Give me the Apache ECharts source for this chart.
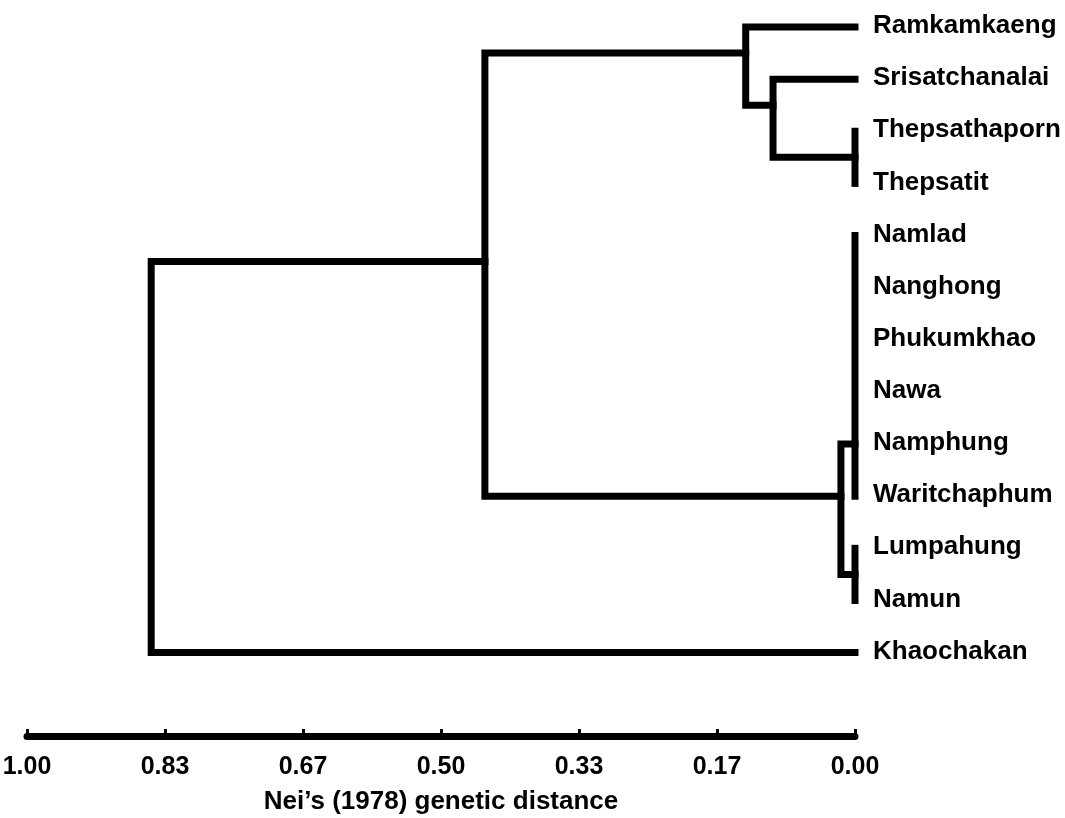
<!DOCTYPE html>
<html>
<head>
<meta charset="utf-8">
<script src="https://cdn.jsdelivr.net/npm/echarts@6/dist/echarts.min.js"></script>
<style>
html,body{margin:0;padding:0;background:#fff;}
#chart{width:1065px;height:818px;}
</style>
</head>
<body>
<div id="chart"></div>
<script>
// Leaves, top to bottom
const leaves = ['Ramkamkaeng','Srisatchanalai','Thepsathaporn','Thepsatit','Namlad','Nanghong',
  'Phukumkhao','Nawa','Namphung','Waritchaphum','Lumpahung','Namun','Khaochakan'];

// Internal nodes (clusters)
const nodeIds = ['A','B','C','D','E','F','G','H'];
const nodeChildren = [
  ['Thepsathaporn','Thepsatit'],
  ['Srisatchanalai','A'],
  ['Ramkamkaeng','B'],
  ['Namlad','Nanghong','Phukumkhao','Nawa','Namphung','Waritchaphum'],
  ['Lumpahung','Namun'],
  ['D','E'],
  ['C','F'],
  ['G','Khaochakan']
];
// Nei's genetic distance at which each cluster joins
const nodeDistance = [0.000, 0.099, 0.132, 0.000, 0.000, 0.017, 0.447, 0.850];
// Vertical position of each cluster's link (in leaf-order units)
const nodePosition = [2.5, 1.5, 0.5, 8, 10.5, 9, 4.5, 8.25];

const tickLabels = ['0.00','0.17','0.33','0.50','0.67','0.83','1.00'];
const axisTitle = 'Nei\u2019s (1978) genetic distance';

function info(id){
  const li = leaves.indexOf(id);
  if (li >= 0) return {d: 0, p: li};
  const ni = nodeIds.indexOf(id);
  return {d: nodeDistance[ni], p: nodePosition[ni]};
}

const FONT = 'Liberation Sans, Arial, Helvetica, sans-serif';
const lineStyle = {stroke:'#000', lineWidth:7, fill:null, lineCap:'square', lineJoin:'miter'};

const chart = echarts.init(document.getElementById('chart'));
chart.setOption({
  animation:false,
  backgroundColor:'#fff',
  grid:{left:27, right:210, top:27, bottom:82, containLabel:false, outerBoundsMode:'none'},
  xAxis:{
    type:'value', inverse:true, min:0, max:1, interval:1/6,
    axisLine:{show:true, onZero:false, lineStyle:{color:'#000', width:7}},
    axisTick:{show:true, inside:true, length:7, lineStyle:{color:'#000', width:3}},
    splitLine:{show:false},
    axisLabel:{color:'#000', fontSize:25, fontWeight:'bold', fontFamily:FONT, margin:19,
      formatter:function(v, i){ return tickLabels[Math.round(v*6)]; }},
    name:axisTitle, nameLocation:'middle', nameGap:53,
    nameTextStyle:{color:'#000', fontSize:26, fontWeight:'bold', fontFamily:FONT}
  },
  yAxis:{type:'value', inverse:true, min:0, max:13.6, show:false},
  series:[
    {
      type:'custom',
      data: nodeIds.map(function(id, i){ return [nodeDistance[i], nodePosition[i], i]; }),
      encode:{x:0, y:1},
      renderItem:function(params, api){
        const i = api.value(2);
        const h = nodeDistance[i];
        const kids = nodeChildren[i].map(info);
        const first = kids[0], last = kids[kids.length-1];
        const pts = [
          api.coord([first.d, first.p]), api.coord([h, first.p]),
          api.coord([h, last.p]), api.coord([last.d, last.p])
        ];
        const children = [{type:'polyline', shape:{points:pts}, style:lineStyle}];
        for (let k = 1; k < kids.length-1; k++){
          children.push({type:'line', shape:{
            x1:api.coord([h, kids[k].p])[0], y1:api.coord([h, kids[k].p])[1],
            x2:api.coord([kids[k].d, kids[k].p])[0], y2:api.coord([kids[k].d, kids[k].p])[1]},
            style:lineStyle});
        }
        return {type:'group', children:children};
      }
    },
    {
      type:'custom',
      data: leaves.map(function(n, i){ return [0, i, i]; }),
      encode:{x:0, y:1},
      renderItem:function(params, api){
        const i = api.value(2);
        const c = api.coord([0, i]);
        return {type:'text', x:c[0]+18, y:c[1]-1, style:{
          text:leaves[i], fill:'#000', fontSize:26, fontWeight:'bold', fontFamily:FONT,
          align:'left', verticalAlign:'middle'}};
      }
    }
  ]
});
</script>
</body>
</html>
